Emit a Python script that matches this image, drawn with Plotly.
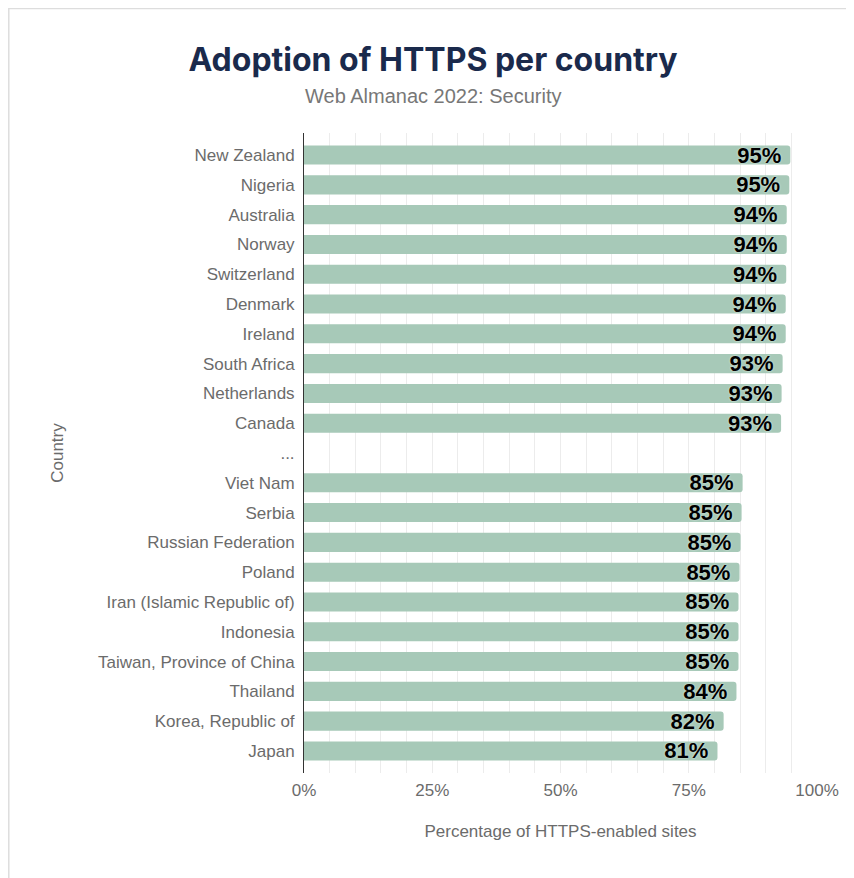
import plotly.graph_objects as go

countries = ["New Zealand", "Nigeria", "Australia", "Norway", "Switzerland", "Denmark",
             "Ireland", "South Africa", "Netherlands", "Canada", "...",
             "Viet Nam", "Serbia", "Russian Federation", "Poland",
             "Iran (Islamic Republic of)", "Indonesia", "Taiwan, Province of China",
             "Thailand", "Korea, Republic of", "Japan"]
values = [94.8, 94.6, 94.1, 94.1, 94.0, 93.9, 93.9, 93.3, 93.1, 93.0, None,
          85.5, 85.3, 85.1, 84.9, 84.7, 84.7, 84.7, 84.3, 81.8, 80.6]
labels = ["95%", "95%", "94%", "94%", "94%", "94%", "94%", "93%", "93%", "93%", "",
          "85%", "85%", "85%", "85%", "85%", "85%", "85%", "84%", "82%", "81%"]
x_ticks = [0, 25, 50, 75, 100]
x_ticktext = ["0%", "25%", "50%", "75%", "100%"]

W, H = 854, 878
L, R, T, B = 296, 44.5, 125, 113

fig = go.Figure()
fig.add_trace(go.Bar(
    x=values, y=countries, orientation="h",
    marker=dict(color="#a7c9b8", cornerradius=3, line=dict(width=0)),
    text=labels, texttemplate="%{text} ", textposition="inside", insidetextanchor="end",
    constraintext="none",
    textfont=dict(family="Liberation Sans", size=22, color="#000000", weight="bold",
                  shadow="0px 0px 2px #e8f2ec"),
    cliponaxis=False, hoverinfo="skip",
))

fig.update_layout(
    width=W, height=H,
    paper_bgcolor="white", plot_bgcolor="white",
    margin=dict(l=L, r=R, t=T, b=B, autoexpand=False),
    bargap=0.36,
    showlegend=False,
    font=dict(family="Liberation Sans", color="#6b6b6b"),
    title=dict(text="<b>Adoption of HTTPS per country</b>", x=425 / W, xanchor="center",
               y=1 - 52 / H, yanchor="middle",
               font=dict(family="Inter", size=32, color="#1a2a4c", weight=900)),
    shapes=[dict(type="rect", xref="paper", yref="paper",
                 x0=(0.5 - L) / (W - L - R), x1=(W + 20 - L) / (W - L - R),
                 y0=-0.3, y1=(H - B - 0.5) / (H - T - B),
                 line=dict(color="#dddddd", width=1.5), layer="below")],
    annotations=[dict(text="Web Almanac 2022: Security", xref="paper", yref="paper",
                      x=(425 - L) / (W - L - R), y=(H - B - 88) / (H - T - B),
                      showarrow=False, xanchor="center", yanchor="middle",
                      font=dict(size=20, color="#777777"))],
)

fig.update_xaxes(
    range=[0, 100], tickvals=x_ticks, ticktext=x_ticktext,
    showgrid=True, gridcolor="#ececec", gridwidth=1,
    minor=dict(dtick=5, showgrid=True, gridcolor="#ececec", gridwidth=1),
    zeroline=False, showline=False,
    tickfont=dict(size=17, color="#6b6b6b"),
    title=dict(text="Percentage of HTTPS-enabled sites", font=dict(size=17, color="#6b6b6b"), standoff=26),
    ticks="", ticklabelstandoff=5,
)
fig.update_yaxes(
    categoryorder="array", categoryarray=countries,
    range=[20.74, -0.74],
    showline=True, linecolor="#333333", linewidth=1,
    showgrid=False, ticks="",
    tickfont=dict(size=17, color="#6b6b6b"),
    ticklabelstandoff=5,
    title=dict(text="Country", font=dict(size=17, color="#6b6b6b"), standoff=30),
)

fig.write_html("out.html")
